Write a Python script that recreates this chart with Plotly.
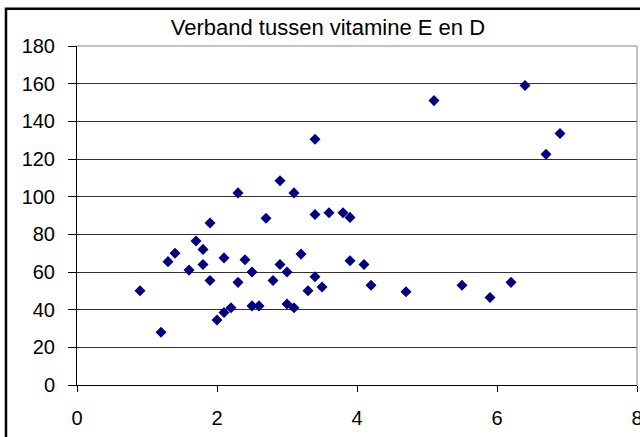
import plotly.graph_objects as go

# vitamine E (x) en vitamine D (y)
vit_e = [0.9, 1.2, 1.3, 1.4, 1.6, 1.7, 1.8, 1.8, 1.9, 1.9, 2.0, 2.1, 2.2, 2.1,
         2.3, 2.3, 2.4, 2.5, 2.5, 2.6, 2.7, 2.8, 2.9, 2.9, 3.0, 3.0, 3.1, 3.1,
         3.2, 3.3, 3.4, 3.4, 3.4, 3.5, 3.6, 3.8, 3.9, 3.9, 4.1, 4.2, 4.7, 5.1,
         5.5, 5.9, 6.2, 6.4, 6.7, 6.9]
vit_d = [50, 28, 65.5, 70, 61, 76.5, 72, 64, 86, 55.5, 34.5, 38.5, 41, 67.5,
         102, 54.5, 66.5, 60, 42, 42, 88.5, 55.5, 108.5, 64, 60, 43, 102, 41,
         69.5, 50, 130.5, 90.5, 57.5, 52, 91.5, 91.5, 89, 66, 64, 53, 49.5, 151,
         53, 46.5, 54.5, 159, 122.5, 133.5]

title = "Verband tussen vitamine E en D"
x_ticks = [0, 2, 4, 6, 8]
y_ticks = [0, 20, 40, 60, 80, 100, 120, 140, 160, 180]


def main() -> None:
    fig = go.Figure(
        go.Scatter(
            x=vit_e,
            y=vit_d,
            mode="markers",
            marker=dict(symbol="diamond", size=8.5, color="#000080",
                        line=dict(width=0)),
            showlegend=False,
        )
    )

    font = "Liberation Sans, Arial, sans-serif"
    fig.update_layout(
        width=640,
        height=437,
        margin=dict(l=77, r=3, t=46, b=52, autoexpand=False),
        paper_bgcolor="white",
        plot_bgcolor="white",
        font=dict(family=font, size=20, color="black"),
        title=dict(text=title, x=0.448, xref="paper", xanchor="center",
                   y=1 - 27 / 437, yref="container", yanchor="middle",
                   font=dict(size=22, color="black"), automargin=False),
    )
    fig.update_xaxes(
        range=[0, 8], tickvals=x_ticks, showgrid=False, zeroline=False,
        showline=True, linecolor="black", linewidth=1, automargin=False,
        ticks="outside", ticklen=6, tickcolor="black", ticklabelstandoff=9,
        ticklabeloverflow="allow",
    )
    fig.update_yaxes(
        range=[0, 180], tickvals=y_ticks, showgrid=True, gridcolor="#333",
        gridwidth=1, zeroline=False, showline=True, linecolor="black",
        linewidth=1, ticks="outside", ticklen=8, tickcolor="black",
        ticklabelstandoff=9, automargin=False,
    )

    # grey border on top and right of the plot area
    fig.add_shape(type="line", xref="paper", yref="paper", x0=0, x1=1, y0=1, y1=1,
                  line=dict(color="#888", width=1))
    fig.add_shape(type="line", xref="paper", yref="paper", x0=1, x1=1, y0=0, y1=1,
                  line=dict(color="#888", width=1))
    # outer chart frame
    fig.add_shape(type="rect", xref="paper", yref="paper",
                  x0=-0.1268, x1=1.1, y0=-0.3, y1=1.11,
                  line=dict(color="black", width=2.5), layer="below")

    # drop the default page margin so the figure fills the window
    fig.write_html("out.html", config={"displayModeBar": False},
                   post_script="document.body.style.margin='0';")


if __name__ == "__main__":
    main()
